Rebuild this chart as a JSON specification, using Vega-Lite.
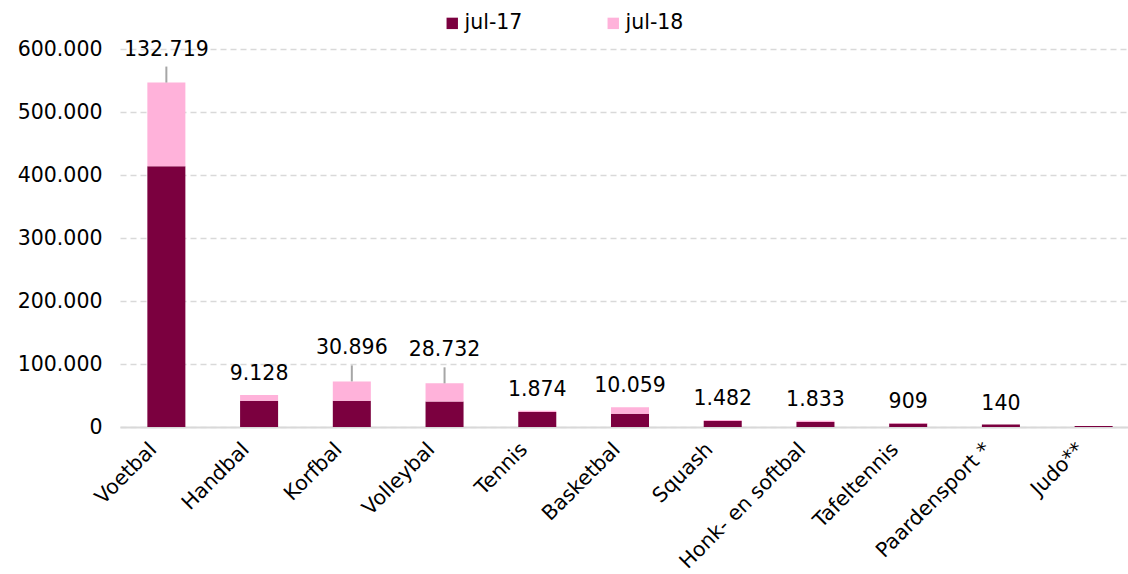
{
  "$schema": "https://vega.github.io/schema/vega-lite/v6.json",
  "autosize": "none",
  "width": 1020,
  "height": 378,
  "padding": {"left": 120, "top": 49, "right": 0, "bottom": 147},
  "background": "white",
  "config": {
    "locale": {"number": {"decimal": ",", "thousands": ".", "grouping": [3], "currency": ["€", ""]}},
    "font": "DejaVu Sans",
    "view": {"stroke": null},
    "axisY": {
      "title": null, "format": ",.0f", "tickCount": 7,
      "domain": false, "ticks": false, "labelFontSize": 20.5, "labelColor": "#000000", "labelPadding": 18,
      "gridColor": "#d9d9d9", "gridDash": [6, 4], "gridWidth": 1.5, "labelOverlap": false
    }
  },
  "data": {"values": [
    {"sport": "Voetbal", "jaar": "jul-17", "leden": 414000},
    {"sport": "Voetbal", "jaar": "jul-18", "leden": 132719},
    {"sport": "Handbal", "jaar": "jul-17", "leden": 41700},
    {"sport": "Handbal", "jaar": "jul-18", "leden": 9128},
    {"sport": "Korfbal", "jaar": "jul-17", "leden": 41500},
    {"sport": "Korfbal", "jaar": "jul-18", "leden": 30896},
    {"sport": "Volleybal", "jaar": "jul-17", "leden": 40600},
    {"sport": "Volleybal", "jaar": "jul-18", "leden": 28732},
    {"sport": "Tennis", "jaar": "jul-17", "leden": 24000},
    {"sport": "Tennis", "jaar": "jul-18", "leden": 1874},
    {"sport": "Basketbal", "jaar": "jul-17", "leden": 21200},
    {"sport": "Basketbal", "jaar": "jul-18", "leden": 10059},
    {"sport": "Squash", "jaar": "jul-17", "leden": 9700},
    {"sport": "Squash", "jaar": "jul-18", "leden": 1482},
    {"sport": "Honk- en softbal", "jaar": "jul-17", "leden": 8000},
    {"sport": "Honk- en softbal", "jaar": "jul-18", "leden": 1833},
    {"sport": "Tafeltennis", "jaar": "jul-17", "leden": 5400},
    {"sport": "Tafeltennis", "jaar": "jul-18", "leden": 909},
    {"sport": "Paardensport *", "jaar": "jul-17", "leden": 3800},
    {"sport": "Paardensport *", "jaar": "jul-18", "leden": 140},
    {"sport": "Judo**", "jaar": "jul-17", "leden": 1600}
  ]},
  "encoding": {
    "x": {
      "field": "sport", "type": "nominal", "sort": null,
      "scale": {"paddingInner": 0.59, "paddingOuter": 0.295},
      "axis": {
        "title": null, "labelAngle": -45, "labelFontSize": 20.5, "labelColor": "#000000",
        "ticks": false, "domainColor": "#d9d9d9", "domainWidth": 2, "labelPadding": 12,
        "labelOffset": -20, "labelLimit": 300
      }
    }
  },
  "layer": [
    {
      "mark": {"type": "bar"},
      "encoding": {
        "y": {
          "field": "leden", "type": "quantitative", "stack": "zero",
          "scale": {"domain": [0, 600000], "nice": false}
        },
        "color": {
          "field": "jaar", "type": "nominal",
          "scale": {"domain": ["jul-17", "jul-18"], "range": ["#7b003f", "#ffb2da"]},
          "legend": {
            "title": null, "orient": "none", "direction": "horizontal", "legendX": 322, "legendY": -36,
            "symbolType": "square", "symbolSize": 130, "symbolStrokeWidth": 0, "labelFontSize": 20.5,
            "labelColor": "#000000", "columnPadding": 80, "labelOffset": 2
          }
        },
        "order": {"field": "jaar", "type": "nominal", "sort": "ascending"}
      }
    },
    {
      "transform": [
        {"joinaggregate": [{"op": "sum", "field": "leden", "as": "totaal"}], "groupby": ["sport"]},
        {"filter": "datum.jaar === 'jul-18'"},
        {"filter": {"field": "sport", "oneOf": ["Voetbal", "Korfbal", "Volleybal"]}}
      ],
      "mark": {"type": "rule", "color": "#a6a6a6", "strokeWidth": 2, "y2Offset": -16},
      "encoding": {
        "y": {"field": "totaal", "type": "quantitative"},
        "y2": {"field": "totaal"}
      }
    },
    {
      "transform": [
        {"joinaggregate": [{"op": "sum", "field": "leden", "as": "totaal"}], "groupby": ["sport"]},
        {"filter": "datum.jaar === 'jul-18'"},
        {"filter": {"field": "sport", "oneOf": ["Voetbal", "Korfbal", "Volleybal"]}}
      ],
      "mark": {"type": "text", "fontSize": 20.5, "color": "#000000", "baseline": "middle", "dy": -33},
      "encoding": {
        "y": {"field": "totaal", "type": "quantitative"},
        "text": {"field": "leden", "type": "quantitative", "format": ",.0f"}
      }
    },
    {
      "transform": [
        {"joinaggregate": [{"op": "sum", "field": "leden", "as": "totaal"}], "groupby": ["sport"]},
        {"filter": "datum.jaar === 'jul-18'"},
        {"filter": {"not": {"field": "sport", "oneOf": ["Voetbal", "Korfbal", "Volleybal"]}}}
      ],
      "mark": {"type": "text", "fontSize": 20.5, "color": "#000000", "baseline": "middle", "dy": -21},
      "encoding": {
        "y": {"field": "totaal", "type": "quantitative"},
        "text": {"field": "leden", "type": "quantitative", "format": ",.0f"}
      }
    }
  ]
}
